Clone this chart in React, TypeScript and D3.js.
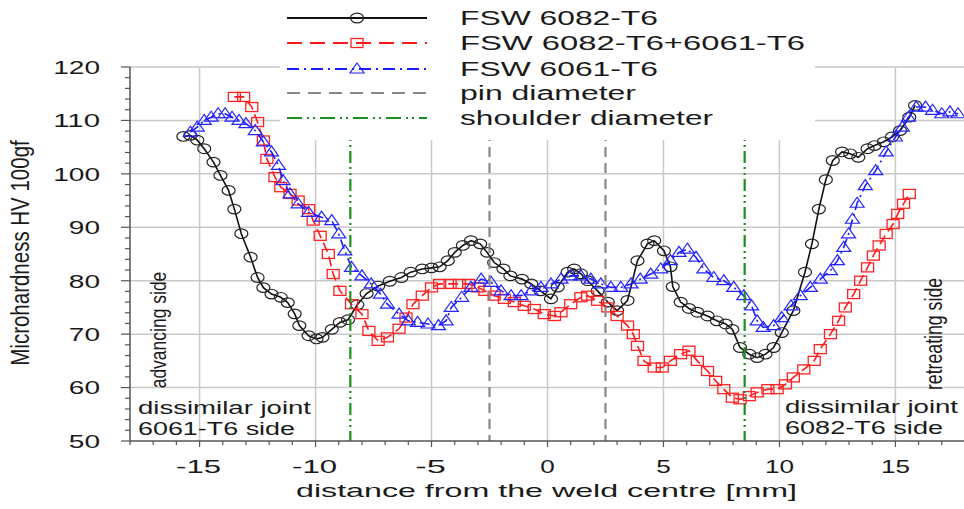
import { useRef, useEffect } from 'react';
import * as d3 from 'd3';

// distance from weld centre [mm], microhardness HV
const fsw6082 = [
  [-15.7, 107.0], [-15.4, 107.2], [-15.1, 106.3], [-14.8, 104.7], [-14.4, 102.2], [-14.1, 99.7],
  [-13.75, 96.9], [-13.5, 93.4], [-13.2, 88.8], [-12.8, 84.4], [-12.5, 80.6], [-12.25, 78.7],
  [-11.9, 77.5], [-11.5, 76.9], [-11.2, 75.9], [-10.9, 73.8], [-10.7, 71.6], [-10.3, 69.7],
  [-9.96, 69.1], [-9.7, 69.4], [-9.3, 70.9], [-8.95, 72.2], [-8.6, 72.7], [-8.2, 75.5],
  [-7.8, 77.6], [-7.3, 79.0], [-6.8, 79.9], [-6.3, 80.6], [-5.9, 81.6], [-5.4, 82.2],
  [-5.0, 82.4], [-4.65, 82.6], [-4.3, 83.75], [-4.0, 85.3], [-3.65, 86.6], [-3.3, 87.5],
  [-2.9, 86.9], [-2.6, 85.3], [-2.3, 83.4], [-1.9, 82.2], [-1.6, 80.9], [-1.1, 80.3],
  [-0.7, 79.4], [-0.3, 78.1], [0.15, 76.6], [0.44, 78.8], [0.87, 81.6], [1.15, 82.2],
  [1.44, 81.3], [1.73, 80.0], [2.16, 78.1], [2.6, 76.0], [3.0, 74.4], [3.45, 76.3],
  [3.88, 83.75], [4.31, 86.9], [4.6, 87.5], [5.02, 85.6], [5.3, 82.6], [5.4, 78.9],
  [5.74, 76.0], [6.1, 74.8], [6.46, 74.1], [6.9, 73.4], [7.3, 72.5], [7.68, 71.9],
  [7.97, 70.9], [8.3, 67.5], [8.7, 66.25], [9.04, 65.6], [9.4, 66.25], [9.75, 67.5],
  [10.1, 70.3], [10.6, 74.4], [11.1, 81.6], [11.4, 86.9], [11.7, 93.4], [12.0, 98.9],
  [12.3, 102.5], [12.7, 104.1], [13.05, 103.75], [13.4, 103.1], [13.8, 104.7], [14.1, 105.3],
  [14.5, 106.0], [14.85, 106.9], [15.2, 108.1], [15.6, 110.6], [15.85, 112.8],
];

const fswDissimilar = [
  [-13.5, 114.4], [-13.1, 114.4], [-12.75, 112.5], [-12.5, 109.7], [-12.25, 106.25], [-12.1, 102.8],
  [-11.75, 99.4], [-11.5, 97.5], [-11.1, 96.25], [-10.75, 95.0], [-10.3, 93.4], [-10.1, 91.25],
  [-9.8, 88.4], [-9.45, 85.0], [-9.24, 81.25], [-8.95, 78.1], [-8.45, 75.6], [-8.0, 73.75],
  [-7.7, 70.6], [-7.3, 68.75], [-6.9, 69.4], [-6.4, 71.0], [-6.1, 73.1], [-5.8, 75.6],
  [-5.4, 77.2], [-5.0, 78.75], [-4.65, 79.4], [-4.2, 79.4], [-3.8, 79.4], [-3.4, 79.4],
  [-3.0, 78.75], [-2.7, 78.1], [-2.3, 77.2], [-1.86, 76.6], [-1.43, 76.0], [-1.0, 75.3],
  [-0.57, 74.7], [-0.14, 73.75], [0.3, 73.4], [0.58, 74.1], [1.0, 75.6], [1.44, 76.9],
  [1.73, 77.2], [2.16, 76.25], [2.6, 75.0], [3.0, 73.4], [3.45, 71.6], [3.7, 70.0],
  [3.88, 67.8], [4.16, 65.0], [4.6, 63.75], [4.95, 63.75], [5.3, 65.0], [5.74, 66.25],
  [6.1, 66.9], [6.46, 65.0], [6.9, 63.1], [7.25, 61.25], [7.6, 59.7], [7.97, 58.1],
  [8.3, 57.8], [8.7, 58.4], [9.04, 59.1], [9.5, 59.7], [9.9, 59.7], [10.26, 60.6],
  [10.6, 61.9], [11.05, 63.4], [11.5, 65.0], [11.76, 67.2], [12.2, 70.0], [12.55, 72.5],
  [12.84, 75.0], [13.2, 77.5], [13.5, 80.0], [13.8, 82.5], [14.05, 84.7], [14.3, 86.6],
  [14.6, 88.75], [14.9, 90.6], [15.1, 92.5], [15.35, 94.4], [15.6, 96.25],
];

const fsw6061 = [
  [-15.4, 107.8], [-15.1, 108.75], [-14.8, 110.0], [-14.5, 110.6], [-14.2, 111.25], [-13.9, 111.25],
  [-13.6, 110.6], [-13.3, 110.0], [-13.0, 109.4], [-12.6, 108.1], [-12.25, 106.0], [-11.9, 104.1],
  [-11.6, 101.6], [-11.4, 98.75], [-11.1, 96.25], [-10.75, 94.4], [-10.3, 92.8], [-9.74, 91.9],
  [-9.3, 91.25], [-9.0, 88.75], [-8.74, 85.6], [-8.45, 82.5], [-8.0, 80.9], [-7.6, 79.4],
  [-7.2, 77.5], [-6.9, 75.6], [-6.4, 73.75], [-6.0, 72.5], [-5.6, 72.2], [-5.15, 71.9],
  [-4.7, 71.6], [-4.37, 72.5], [-4.15, 75.0], [-3.7, 76.9], [-3.3, 78.75], [-2.86, 80.3],
  [-2.43, 79.7], [-2.0, 78.1], [-1.57, 77.2], [-1.14, 77.2], [-0.7, 78.1], [-0.28, 78.75],
  [0.15, 79.4], [0.58, 80.3], [1.0, 80.9], [1.44, 80.9], [1.87, 80.3], [2.3, 79.4],
  [2.73, 78.75], [3.16, 78.75], [3.6, 79.4], [4.0, 80.3], [4.45, 81.25], [4.88, 82.2],
  [5.3, 83.75], [5.67, 85.3], [6.03, 85.9], [6.4, 84.4], [6.74, 82.2], [7.17, 80.6],
  [7.6, 80.0], [8.03, 78.75], [8.46, 77.2], [8.8, 75.3], [9.04, 72.5], [9.3, 71.25],
  [9.75, 71.6], [10.1, 73.1], [10.5, 75.3], [10.9, 77.2], [11.33, 78.75], [11.76, 80.3],
  [12.2, 81.9], [12.5, 83.75], [12.77, 86.25], [12.98, 88.75], [13.15, 91.5], [13.35, 94.5],
  [13.7, 97.8], [14.15, 100.6], [14.6, 104.1], [15.0, 106.9], [15.3, 108.75], [15.56, 110.6],
  [15.9, 112.5], [16.3, 112.5], [16.6, 111.9], [17.0, 111.25], [17.35, 111.6], [17.7, 111.25],
];

const pinDiameter = [-2.5, 2.5];
const shoulderDiameter = [-8.5, 8.5];
const xTickLabels = [-15, -10, -5, 0, 5, 10, 15];
const yTickLabels = [50, 60, 70, 80, 90, 100, 110, 120];
const legendLabels = ['FSW 6082-T6', 'FSW 6082-T6+6061-T6', 'FSW 6061-T6', 'pin diameter', 'shoulder diameter'];

const FONT = 'Liberation Sans, Arial, Helvetica, sans-serif';

function HardnessChart() {
  const ref = useRef<SVGSVGElement>(null);

  useEffect(() => {
    const svg = d3.select(ref.current);
    svg.selectAll('*').remove();

    const x = d3.scaleLinear().domain([-18, 18]).range([130, 965]);
    const y = d3.scaleLinear().domain([50, 120]).range([441, 67]);

    // horizontal text is stretched wide in the source, so width comes from textLength
    const text = (str: string, px: number, py: number, size: number, len: number) =>
      svg.append('text')
        .attr('x', px).attr('y', py)
        .attr('font-family', FONT)
        .attr('font-size', size)
        .attr('fill', '#1a1a1a')
        .attr('textLength', len)
        .attr('lengthAdjust', 'spacingAndGlyphs')
        .text(str);

    // rotated text, centred on (px, py), bottom-to-top, glyphs widened like the source
    const vtext = (str: string, px: number, py: number, size: number, sx: number) =>
      svg.append('text')
        .attr('transform', `translate(${px},${py}) scale(${sx},1) rotate(-90)`)
        .attr('text-anchor', 'middle')
        .attr('font-family', FONT)
        .attr('font-size', size)
        .attr('fill', '#1a1a1a')
        .text(str);

    // grid
    const grid = svg.append('g').attr('stroke', '#c9c9c9').attr('stroke-width', 1.5);
    grid.selectAll('line.v').data(xTickLabels).enter().append('line')
      .attr('x1', d => x(d)).attr('x2', d => x(d)).attr('y1', y(120)).attr('y2', y(50));
    grid.selectAll('line.h').data(yTickLabels.filter(d => d > 50)).enter().append('line')
      .attr('x1', x(-18)).attr('x2', x(18)).attr('y1', d => y(d)).attr('y2', d => y(d));

    // clip for data
    svg.append('defs').append('clipPath').attr('id', 'plotclip')
      .append('rect').attr('x', 130).attr('y', 55).attr('width', 835).attr('height', 386);

    const plot = svg.append('g').attr('clip-path', 'url(#plotclip)');
    const line = d3.line<number[]>().x(d => x(d[0])).y(d => y(d[1]));

    // black circles
    plot.append('path').datum(fsw6082).attr('d', line)
      .attr('fill', 'none').attr('stroke', '#111').attr('stroke-width', 1.6);
    plot.selectAll('ellipse.c').data(fsw6082).enter().append('ellipse')
      .attr('cx', d => x(d[0])).attr('cy', d => y(d[1])).attr('rx', 6.5).attr('ry', 4.8)
      .attr('fill', 'none').attr('stroke', '#222').attr('stroke-width', 1.2);

    // red squares
    plot.append('path').datum(fswDissimilar).attr('d', line)
      .attr('fill', 'none').attr('stroke', '#ff1a1a').attr('stroke-width', 1.6)
      .attr('stroke-dasharray', '10,5');
    plot.selectAll('rect.s').data(fswDissimilar).enter().append('rect')
      .attr('x', d => x(d[0]) - 6).attr('y', d => y(d[1]) - 4.5).attr('width', 12).attr('height', 9)
      .attr('fill', 'none').attr('stroke', '#ff2222').attr('stroke-width', 1.3);

    // blue triangles
    plot.append('path').datum(fsw6061).attr('d', line)
      .attr('fill', 'none').attr('stroke', '#1a1aff').attr('stroke-width', 1.6)
      .attr('stroke-dasharray', '10,4,2,4');
    plot.selectAll('path.t').data(fsw6061).enter().append('path')
      .attr('d', d => {
        const cx = x(d[0]), cy = y(d[1]);
        return `M${cx},${cy - 6}L${cx + 7},${cy + 4}L${cx - 7},${cy + 4}Z`;
      })
      .attr('fill', 'none').attr('stroke', '#2424ff').attr('stroke-width', 1.2);

    // pin and shoulder lines
    svg.selectAll('line.pin').data(pinDiameter).enter().append('line')
      .attr('x1', d => x(d)).attr('x2', d => x(d)).attr('y1', y(120)).attr('y2', y(50))
      .attr('stroke', '#888').attr('stroke-width', 2.2).attr('stroke-dasharray', '10,6');
    svg.selectAll('line.sh').data(shoulderDiameter).enter().append('line')
      .attr('x1', d => x(d)).attr('x2', d => x(d)).attr('y1', y(120)).attr('y2', y(50))
      .attr('stroke', '#1d8f1d').attr('stroke-width', 2.2).attr('stroke-dasharray', '12,4,2,4,2,4');

    // axes
    const ax = svg.append('g').attr('stroke', '#555').attr('stroke-width', 1.5);
    ax.append('line').attr('x1', 130).attr('x2', 130).attr('y1', y(120)).attr('y2', y(50));
    ax.append('line').attr('x1', 130).attr('x2', 965).attr('y1', y(50)).attr('y2', y(50));
    ax.selectAll('line.ym').data(d3.range(50, 121, 2)).enter().append('line')
      .attr('x1', d => (d % 10 === 0 ? 121 : 125)).attr('x2', 130)
      .attr('y1', d => y(d)).attr('y2', d => y(d)).attr('stroke-width', 1.2);
    ax.selectAll('line.xm').data(d3.range(-18, 19, 1)).enter().append('line')
      .attr('x1', d => x(d)).attr('x2', d => x(d))
      .attr('y1', y(50)).attr('y2', d => y(50) + (d % 5 === 0 ? 6 : 4)).attr('stroke-width', 1.2);

    // tick labels
    yTickLabels.forEach(v => {
      const s = String(v);
      const w = s.length * 15.6;
      text(s, 100 - w, y(v) + 6.8, 19, w);
    });
    xTickLabels.forEach(v => {
      const s = String(v);
      const w = s.replace('-', '').length * 14.5 + (v < 0 ? 16 : 0);
      text(s, x(v) - w / 2 - (v < 0 ? 1 : 0), 473, 17.5, w);
    });

    // axis titles
    text('distance from the weld centre [mm]', 296, 497, 18.5, 501);
    vtext('Microhardness HV 100gf', 29, 253, 20.5, 1.25);

    // annotations
    vtext('advancing side', 166, 330, 17.5, 1.3);
    vtext('retreating side', 942, 334, 17.7, 1.3);
    text('dissimilar joint', 138, 414, 17.5, 173);
    text('6061-T6 side', 138, 435, 17.5, 157);
    text('dissimilar joint', 785, 413, 17.5, 173);
    text('6082-T6 side', 785, 434, 17.5, 158);

    // legend
    svg.append('rect').attr('x', 280).attr('y', 0).attr('width', 535).attr('height', 140).attr('fill', '#fff');
    const rowY = [18, 43, 69, 93, 118];
    const textW = [198, 345, 198, 176, 253];
    const strokes = ['#111', '#ff1a1a', '#1a1aff', '#888', '#1d8f1d'];
    const dashes = [null, '15,8', '12,5,2,5', '13,8', '15,5,2,4,2,5'];
    legendLabels.forEach((lab, i) => {
      const ly = rowY[i];
      const l = svg.append('line').attr('x1', 287).attr('x2', 427).attr('y1', ly).attr('y2', ly)
        .attr('stroke', strokes[i]).attr('stroke-width', 1.8);
      if (dashes[i]) l.attr('stroke-dasharray', dashes[i] as string);
      if (i === 0) {
        svg.append('ellipse').attr('cx', 357).attr('cy', ly).attr('rx', 6.5).attr('ry', 4.8)
          .attr('fill', 'none').attr('stroke', '#222').attr('stroke-width', 1.2);
      } else if (i === 1) {
        svg.append('rect').attr('x', 351).attr('y', ly - 4.5).attr('width', 12).attr('height', 9)
          .attr('fill', 'none').attr('stroke', '#ff2222').attr('stroke-width', 1.3);
      } else if (i === 2) {
        svg.append('path').attr('d', `M357,${ly - 6}L364,${ly + 4}L350,${ly + 4}Z`)
          .attr('fill', 'none').attr('stroke', '#2424ff').attr('stroke-width', 1.2);
      }
      text(lab, 460, ly + 7, 19.5, textW[i]);
    });
  }, []);

  return <svg ref={ref} width={964} height={509} style={{ position: 'absolute', left: 0, top: 0, background: '#fff' }} />;
}

export default function App() {
  return <HardnessChart />;
}
